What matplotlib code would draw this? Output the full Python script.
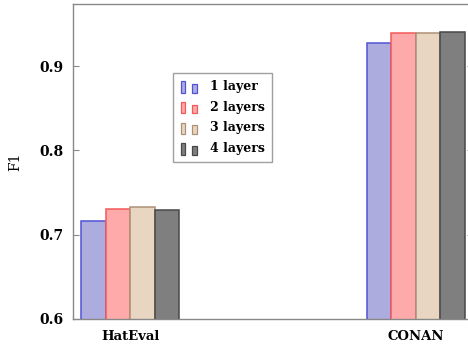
import numpy as np
import matplotlib
matplotlib.use('Agg')
from matplotlib import pyplot as plt
from matplotlib.legend_handler import HandlerBase
from matplotlib.patches import Rectangle

datasets = ['HatEval', 'CONAN']
series = ['1 layer', '2 layers', '3 layers', '4 layers']
f1_1layer = [0.716, 0.927]
f1_2layers = [0.730, 0.939]
f1_3layers = [0.733, 0.939]
f1_4layers = [0.729, 0.940]

fills = ['#acacdf', '#ffaaaa', '#e8d6c2', '#7f7f7f']
edges = ['#5252d4', '#f25a5a', '#ad9076', '#484848']

plt.rcParams['font.family'] = 'DejaVu Serif'
plt.rcParams['font.weight'] = 'bold'


class TwoBars(HandlerBase):
    # pgfplots style legend icon: two small bars
    def create_artists(self, legend, orig, xd, yd, w, h, fontsize, trans):
        fc = orig.get_facecolor()
        ec = orig.get_edgecolor()
        r1 = Rectangle((xd + 0.5, yd - 2), 3.5, h + 2, fc=fc, ec=ec, lw=0.9, transform=trans)
        r2 = Rectangle((xd + 8.5, yd - 2), 3.5, h, fc=fc, ec=ec, lw=0.9, transform=trans)
        return [r1, r2]


fig = plt.figure(figsize=(4.68, 3.47), dpi=100)
ax = fig.add_axes([73/468, 28/347, 400/468, 315/347])

x = np.arange(len(datasets))
w = 0.086
values = [f1_1layer, f1_2layers, f1_3layers, f1_4layers]
handles = []
for i, vals in enumerate(values):
    b = ax.bar(x + (i - 1.5) * w, vals, w, color=fills[i], edgecolor=edges[i],
               linewidth=1.1, label=series[i])
    handles.append(b.patches[0])

ax.set_xlim(-0.2, 1.2)
ax.set_ylim(0.6, 0.9737)
ax.set_xticks(x)
ax.set_xticklabels(datasets)
ax.set_yticks([0.6, 0.7, 0.8, 0.9])
ax.set_yticklabels(['0.6', '0.7', '0.8', '0.9'])
ax.tick_params(axis='x', length=0, pad=8, labelsize=9.5)
ax.tick_params(axis='y', direction='in', length=4, color='#888888', right=True,
               labelsize=10, pad=7)
for s in ax.spines.values():
    s.set_color('#888888')
    s.set_linewidth(1.0)
ax.set_ylabel('F1', fontsize=10, labelpad=12)

leg = ax.legend(handles, series, handler_map={Rectangle: TwoBars()},
                loc='upper left', bbox_to_anchor=(0.25, 0.781), borderaxespad=0,
                fontsize=9, frameon=True, fancybox=False, handlelength=1.2,
                handletextpad=1.25, labelspacing=0.62, borderpad=0.55)
leg.get_frame().set_edgecolor('#888888')
leg.get_frame().set_linewidth(1.0)

fig.savefig('out.png', dpi=100)
